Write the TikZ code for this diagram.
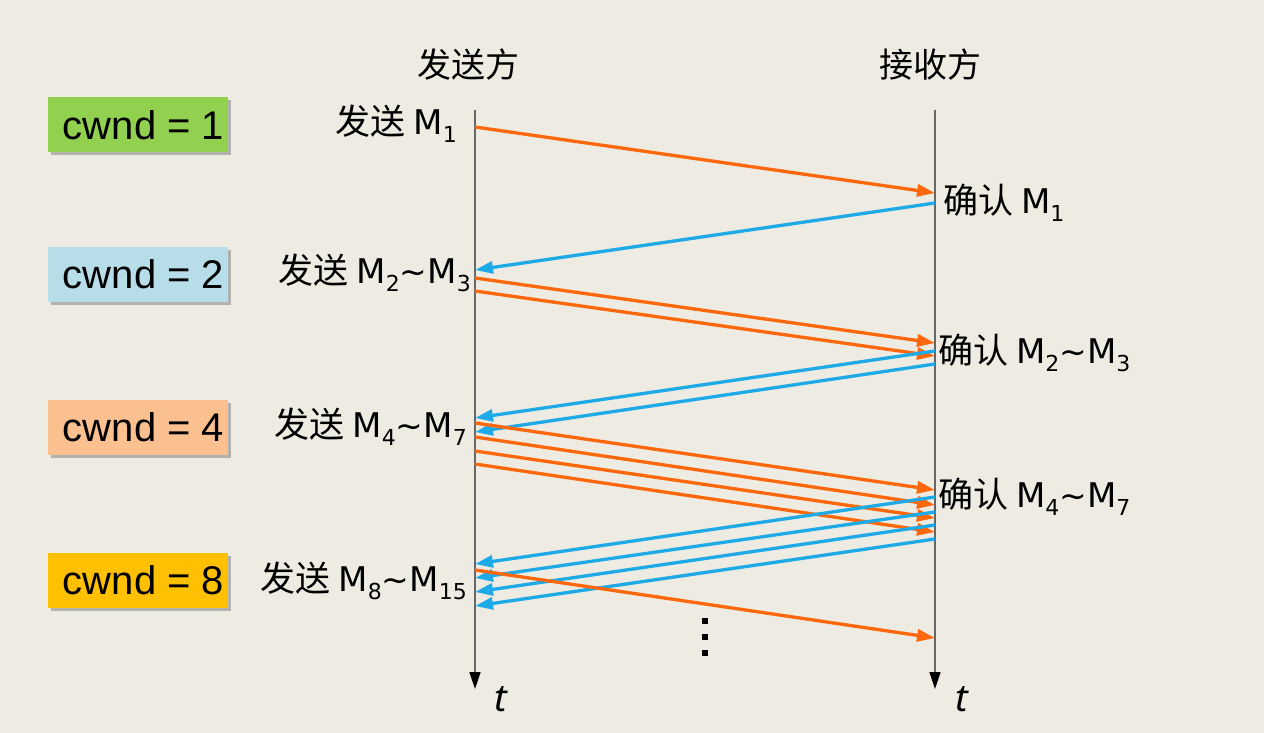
\documentclass[tikz,border=0pt]{standalone}
\usepackage{fontspec}
\setmainfont{Liberation Sans}
\newfontfamily\cjk{Noto Sans CJK SC}
\newfontfamily\lat{DejaVu Sans}
\newfontfamily\tfont{Noto Sans}
\usetikzlibrary{arrows.meta,shadows}
\definecolor{bg}{RGB}{237,235,226}
\definecolor{org}{RGB}{255,104,10}
\definecolor{blu}{RGB}{30,170,230}
\definecolor{cgreen}{RGB}{146,208,80}
\definecolor{cblue}{RGB}{183,222,232}
\definecolor{cpeach}{RGB}{250,192,144}
\definecolor{cgold}{RGB}{255,192,0}
\newcommand{\ms}[1]{\raisebox{-8pt}{\lat\fontsize{22}{22}\selectfont #1}}
\newcommand{\mm}{{\lat\fontsize{34}{34}\selectfont M}}
\newcommand{\tl}{{\lat\fontsize{33}{33}\selectfont\textasciitilde}}
\tikzset{
  cwndbox/.style={minimum width=180pt, minimum height=55pt, inner sep=0pt,
    font=\fontsize{40}{40}\selectfont,
    drop shadow={shadow xshift=3pt, shadow yshift=-3pt, fill=black!45, opacity=0.6}},
  lbl/.style={font=\cjk\fontsize{35}{35}\selectfont, inner sep=0pt},
  hdr/.style={font=\cjk\fontsize{34}{34}\selectfont, inner sep=0pt},
  axisline/.style={draw=black!60, line width=1.6pt, -{Triangle[length=17pt,width=11pt,fill=black,color=black]}},
  dmsg/.style={draw=org, line width=3.3pt, -{Triangle[length=18pt,width=12pt]}},
  amsg/.style={draw=blu, line width=3.3pt, -{Triangle[length=18pt,width=12pt]}},
  tlab/.style={font=\tfont\fontsize{38}{38}\selectfont\itshape, inner sep=0pt},
}
\begin{document}
\begin{tikzpicture}[x=1pt,y=-1pt]
\fill[bg] (0,0) rectangle (1264,733);
\useasboundingbox (0,0) rectangle (1264,733);

% axes
\coordinate (sT) at (475,110);
\coordinate (sB) at (475,689);
\coordinate (rT) at (935,110);
\coordinate (rB) at (935,689);
\draw[axisline] (sT) -- (sB);
\draw[axisline] (rT) -- (rB);
\node[hdr] (hs) at (468,65) {发送方};
\node[hdr] (hr) at (930,65) {接收方};
\node[tlab] (ts) at (501,699) {t};
\node[tlab] (tr) at (962,699) {t};

% cwnd boxes
\node[cwndbox, fill=cgreen] (c1) at (138,125) {\hspace*{11pt}cwnd = 1};
\node[cwndbox, fill=cblue] (c2) at (138,274) {\hspace*{11pt}cwnd = 2};
\node[cwndbox, fill=cpeach] (c4) at (138,427) {\hspace*{11pt}cwnd = 4};
\node[cwndbox, fill=cgold] (c8) at (138,580) {\hspace*{11pt}cwnd = 8};

% labels
\node[lbl, anchor=base east] (l1) at (457,135) {发送 \mm\ms{1}};
\node[lbl, anchor=base west] (l2) at (943,213) {确认 \mm\ms{1}};
\node[lbl, anchor=base east] (l3) at (471,283) {发送 \mm\ms{2}\tl\mm\ms{3}};
\node[lbl, anchor=base west] (l4) at (938,363) {确认 \mm\ms{2}\tl\mm\ms{3}};
\node[lbl, anchor=base east] (l5) at (467,437) {发送 \mm\ms{4}\tl\mm\ms{7}};
\node[lbl, anchor=base west] (l6) at (938,507) {确认 \mm\ms{4}\tl\mm\ms{7}};
\node[lbl, anchor=base east] (l7) at (467,591) {发送 \mm\ms{8}\tl\mm\ms{15}};

% message endpoints
\coordinate (a1) at (475,127); \coordinate (b1) at (935,193);
\coordinate (b2) at (935,203); \coordinate (a2) at (475,270);
\coordinate (a3) at (475,278); \coordinate (b3) at (935,343);
\coordinate (a4) at (475,291); \coordinate (b4) at (935,356);
\coordinate (b5) at (935,351); \coordinate (a5) at (475,418);
\coordinate (b6) at (935,364); \coordinate (a6) at (475,432);
\coordinate (a7) at (475,423); \coordinate (b7) at (935,490);
\coordinate (a8) at (475,437); \coordinate (b8) at (935,505);
\coordinate (a9) at (475,451); \coordinate (b9) at (935,518);
\coordinate (a10) at (475,464); \coordinate (b10) at (935,532);
\coordinate (b11) at (935,497); \coordinate (a11) at (475,564);
\coordinate (b12) at (935,512); \coordinate (a12) at (475,578);
\coordinate (b13) at (935,525); \coordinate (a13) at (475,592);
\coordinate (b14) at (935,539); \coordinate (a14) at (475,606);
\coordinate (a15) at (475,570); \coordinate (b15) at (935,638);

\draw[dmsg] (a1) -- (b1);
\draw[amsg] (b2) -- (a2);
\draw[dmsg] (a3) -- (b3);
\draw[dmsg] (a4) -- (b4);
\draw[amsg] (b5) -- (a5);
\draw[amsg] (b6) -- (a6);
\draw[dmsg] (a7) -- (b7);
\draw[dmsg] (a8) -- (b8);
\draw[dmsg] (a9) -- (b9);
\draw[dmsg] (a10) -- (b10);
\draw[amsg] (b11) -- (a11);
\draw[amsg] (b12) -- (a12);
\draw[amsg] (b13) -- (a13);
\draw[amsg] (b14) -- (a14);
\draw[dmsg] (a15) -- (b15);

% dots
\foreach \yy/\nm in {621/d1,637/d2,653/d3}
  \node[fill=black, minimum size=6pt, inner sep=0pt] (\nm) at (705,\yy) {};
\end{tikzpicture}
\end{document}
